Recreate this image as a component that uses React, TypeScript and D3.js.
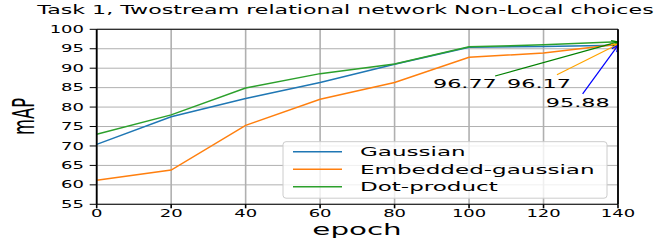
import * as d3 from "d3"

// epochs and mAP per Non-Local variant
const epochs = [0, 20, 40, 60, 80, 100, 120, 140]
const gaussian = [70.4, 77.5, 82.2, 86.3, 91.0, 95.4, 95.6, 95.88]
const embedded = [61.2, 63.8, 75.3, 82.0, 86.3, 92.8, 93.9, 96.17]
const dotProduct = [73.0, 78.0, 84.9, 88.6, 91.1, 95.5, 96.0, 96.77]
const seriesNames = ["Gaussian", "Embedded-gaussian", "Dot-product"]
const seriesColors = ["#1f77b4", "#ff7f0e", "#2ca02c"]

const xTicks = [0, 20, 40, 60, 80, 100, 120, 140]
const yTicks = [55, 60, 65, 70, 75, 80, 85, 90, 95, 100]

// annotation text / arrow tail positions in data units
const annotations = [
  { label: "96.77", value: 96.77, textX: 90.3, textY: 85.0, tailX: 107, tailY: 88.0, color: "#008000" },
  { label: "96.17", value: 96.17, textX: 110.2, textY: 85.0, tailX: 123.6, tailY: 88.3, color: "#ffa500" },
  { label: "95.88", value: 95.88, textX: 120.6, textY: 80.0, tailX: 130.5, tailY: 83.4, color: "#0000ff" },
]

const W = 664
const H = 245
const SX = 1.8 // the figure text is stretched sideways
const FONT = "DejaVu Sans"

function T({ x, y, size, anchor = "start", rotate = false, children }: any) {
  return (
    <text
      transform={`translate(${x},${y}) scale(${SX},1)${rotate ? " rotate(-90)" : ""}`}
      fontSize={size}
      fontFamily={FONT}
      textAnchor={anchor}
      fill="#000"
    >
      {children}
    </text>
  )
}

export default function App() {
  const x = d3.scaleLinear().domain([0, 140]).range([96.7, 618])
  const y = d3.scaleLinear().domain([55, 100]).range([204.3, 29.3])

  const line = d3
    .line<number>()
    .x((_, i) => x(epochs[i]))
    .y((d) => y(d))

  const allSeries = [gaussian, embedded, dotProduct]

  return (
    <svg width={W} height={H} style={{ position: "absolute", left: 0, top: 0, background: "#fff" }}>
      {/* grid */}
      {xTicks.map((t) => (
        <line key={"gx" + t} x1={x(t)} x2={x(t)} y1={y(55)} y2={y(100)} stroke="#b0b0b0" strokeWidth={1.6} />
      ))}
      {yTicks.map((t) => (
        <line key={"gy" + t} x1={x(0)} x2={x(140)} y1={y(t)} y2={y(t)} stroke="#b0b0b0" strokeWidth={1} />
      ))}

      {/* series */}
      {allSeries.map((s, i) => (
        <path key={i} d={line(s) ?? ""} fill="none" stroke={seriesColors[i]} strokeWidth={1.5} />
      ))}

      {/* annotations */}
      {annotations.map((a) => {
        const x1 = x(a.tailX)
        const y1 = y(a.tailY)
        const x2 = x(140)
        const y2 = y(a.value)
        const ang = Math.atan2(y2 - y1, x2 - x1)
        const hl = 7
        const h1 = [x2 - hl * Math.cos(ang - 0.45), y2 - hl * Math.sin(ang - 0.45)]
        const h2 = [x2 - hl * Math.cos(ang + 0.45), y2 - hl * Math.sin(ang + 0.45)]
        return (
          <g key={a.label}>
            <line x1={x1} y1={y1} x2={x2} y2={y2} stroke={a.color} strokeWidth={1.2} />
            <path d={`M${h1[0]},${h1[1]}L${x2},${y2}L${h2[0]},${h2[1]}`} fill="none" stroke={a.color} strokeWidth={1.2} />
            <T x={x(a.textX)} y={y(a.textY)} size={12.4}>
              {a.label}
            </T>
          </g>
        )
      })}

      {/* spines */}
      <line x1={x(0)} x2={x(140)} y1={y(55)} y2={y(55)} stroke="#000" strokeWidth={1.1} />
      <line x1={x(0)} x2={x(140)} y1={y(100)} y2={y(100)} stroke="#000" strokeWidth={1.1} />
      <line x1={x(0)} x2={x(0)} y1={y(55)} y2={y(100)} stroke="#000" strokeWidth={1.8} />
      <line x1={x(140)} x2={x(140)} y1={y(55)} y2={y(100)} stroke="#000" strokeWidth={1.8} />

      {/* ticks */}
      {xTicks.map((t) => (
        <g key={"tx" + t}>
          <line x1={x(t)} x2={x(t)} y1={y(55)} y2={y(55) + 4} stroke="#000" strokeWidth={1.6} />
          <T x={x(t)} y={216.7} size={10} anchor="middle">
            {t}
          </T>
        </g>
      ))}
      {yTicks.map((t) => (
        <g key={"ty" + t}>
          <line x1={x(0) - 7} x2={x(0)} y1={y(t)} y2={y(t)} stroke="#000" strokeWidth={1} />
          <T x={84} y={y(t) + 3.6} size={10} anchor="end">
            {t}
          </T>
        </g>
      ))}

      {/* legend */}
      <rect x={283} y={141.7} width={324} height={56.5} rx={3} fill="#fff" fillOpacity={0.8} stroke="#cccccc" strokeWidth={1} />
      {seriesNames.map((n, i) => {
        const cy = 151.7 + i * 17.5
        return (
          <g key={n}>
            <line x1={293} x2={342} y1={cy} y2={cy} stroke={seriesColors[i]} strokeWidth={1.5} />
            <T x={360} y={cy + 4.6} size={12.8}>
              {n}
            </T>
          </g>
        )
      })}

      {/* labels */}
      <T x={345.5} y={14} size={12.3} anchor="middle">
        Task 1, Twostream relational network Non-Local choices
      </T>
      <T x={357} y={235} size={16.3} anchor="middle">
        epoch
      </T>
      <T x={34} y={116.5} size={16.4} anchor="middle" rotate>
        mAP
      </T>
    </svg>
  )
}
